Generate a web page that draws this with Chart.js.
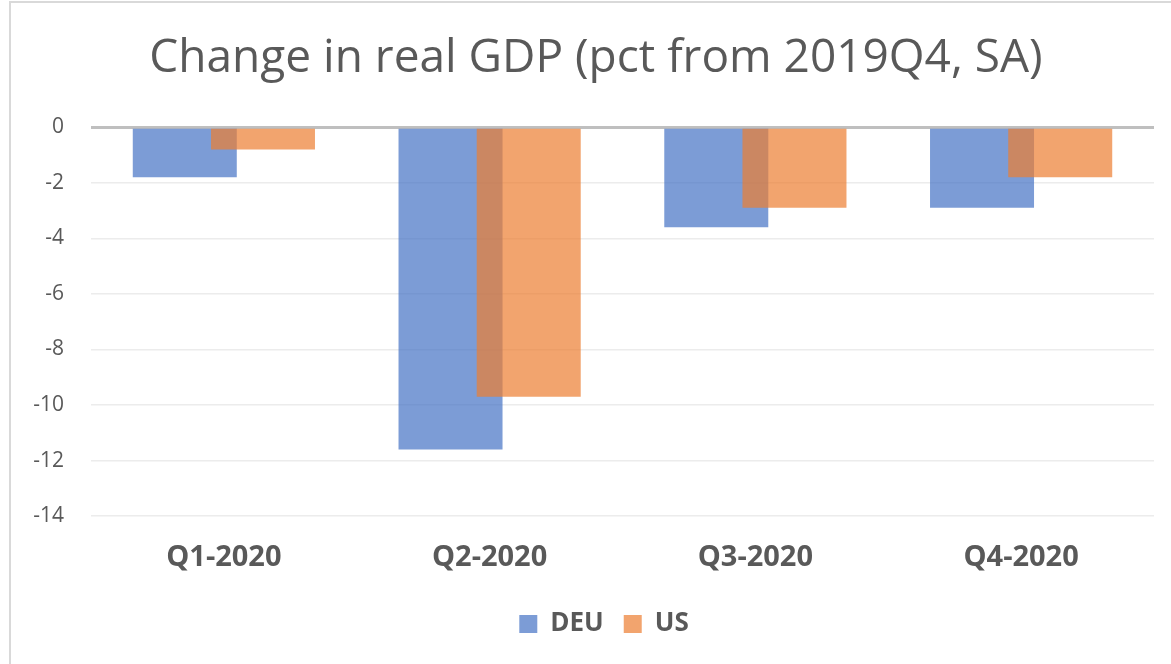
<!DOCTYPE html>
<html>
<head>
<meta charset="utf-8">
<script src="https://cdn.jsdelivr.net/npm/chart.js@4"></script>
<style>
  html, body { margin: 0; padding: 0; background: #fff; overflow: hidden; }
  #frame { position: absolute; left: 9px; top: 1px; width: 1300px; height: 800px; border: 2px solid #d9d9d9; }
  #gdpChart { position: absolute; left: 0; top: 0; }
</style>
</head>
<body>
<div id="frame"></div>
<canvas id="gdpChart" width="1171" height="664"></canvas>
<script>
// Quarters on the x-axis
var quarters = ["Q1-2020", "Q2-2020", "Q3-2020", "Q4-2020"];
// Real GDP, percent change from 2019Q4 (seasonally adjusted)
var deu = [-1.8, -11.6, -3.6, -2.9];
var us = [-0.8, -9.7, -2.9, -1.8];

var textGrey = "#595959";

// Chart.js paints dataset 0 last; hold US back and paint it after DEU
// so the overlapping part of the bars shows orange over blue.
var usOnTop = {
  id: 'usOnTop',
  beforeDatasetDraw: function (chart, args) {
    if (args.index === 1 && !chart._usPass) return false;
  },
  afterDatasetsDraw: function (chart) {
    var meta = chart.getDatasetMeta(1);
    if (meta.hidden) return;
    chart._usPass = true;
    meta.controller.draw();
    chart._usPass = false;
  }
};

// nudge title and legend sideways (they centre on the padded canvas by default)
var nudgeBlocks = {
  id: 'nudgeBlocks',
  afterLayout: function (chart) {
    if (chart.titleBlock) { chart.titleBlock.left += 14; chart.titleBlock.right += 14; }
    if (chart.legend) { chart.legend.left += 22; chart.legend.right += 22; }
  }
};

var ctx = document.getElementById("gdpChart");
var gdpChart = new Chart(ctx, {
  type: 'bar',
  data: {
    labels: quarters,
    datasets: [
      {
        label: "DEU",
        data: deu,
        backgroundColor: "rgba(68,114,196,0.7)",
        borderWidth: 0
      },
      {
        label: "US",
        data: us,
        backgroundColor: "rgba(237,125,49,0.7)",
        borderWidth: 0
      }
    ]
  },
  plugins: [usOnTop, nudgeBlocks],
  options: {
    responsive: false,
    animation: false,
    // bars wider than their slot so the two series overlap
    categoryPercentage: 0.5885,
    barPercentage: 1.33,
    layout: { padding: { left: 10, right: 17, top: 5, bottom: 17 } },
    plugins: {
      title: {
        display: true,
        text: "Change in real GDP (pct from 2019Q4, SA)",
        color: textGrey,
        font: { family: "Open Sans", size: 46, weight: 'normal', lineHeight: 1.2 },
        padding: { top: 26, bottom: 41 }
      },
      legend: {
        position: 'bottom',
        labels: {
          boxWidth: 18,
          boxHeight: 18,
          padding: 20,
          color: textGrey,
          font: { family: "Open Sans", size: 26, weight: 'bold' }
        }
      },
      tooltip: { enabled: false }
    },
    scales: {
      x: {
        grid: { display: false },
        border: { display: false },
        ticks: {
          color: textGrey,
          padding: 16,
          font: { family: "Open Sans", size: 29, weight: 'bold' }
        }
      },
      y: {
        min: -14,
        max: 0,
        border: { display: false },
        grid: {
          drawTicks: false,
          color: function (c) { return c.tick && c.tick.value === 0 ? "#bfbfbf" : "#ececec"; },
          lineWidth: function (c) { return c.tick && c.tick.value === 0 ? 3 : 1.5; }
        },
        ticks: {
          stepSize: 2,
          padding: 27,
          color: textGrey,
          font: { family: "Open Sans", size: 21 }
        },
        afterFit: function (scale) { scale.width = 81; }
      }
    }
  }
});
</script>
</body>
</html>
